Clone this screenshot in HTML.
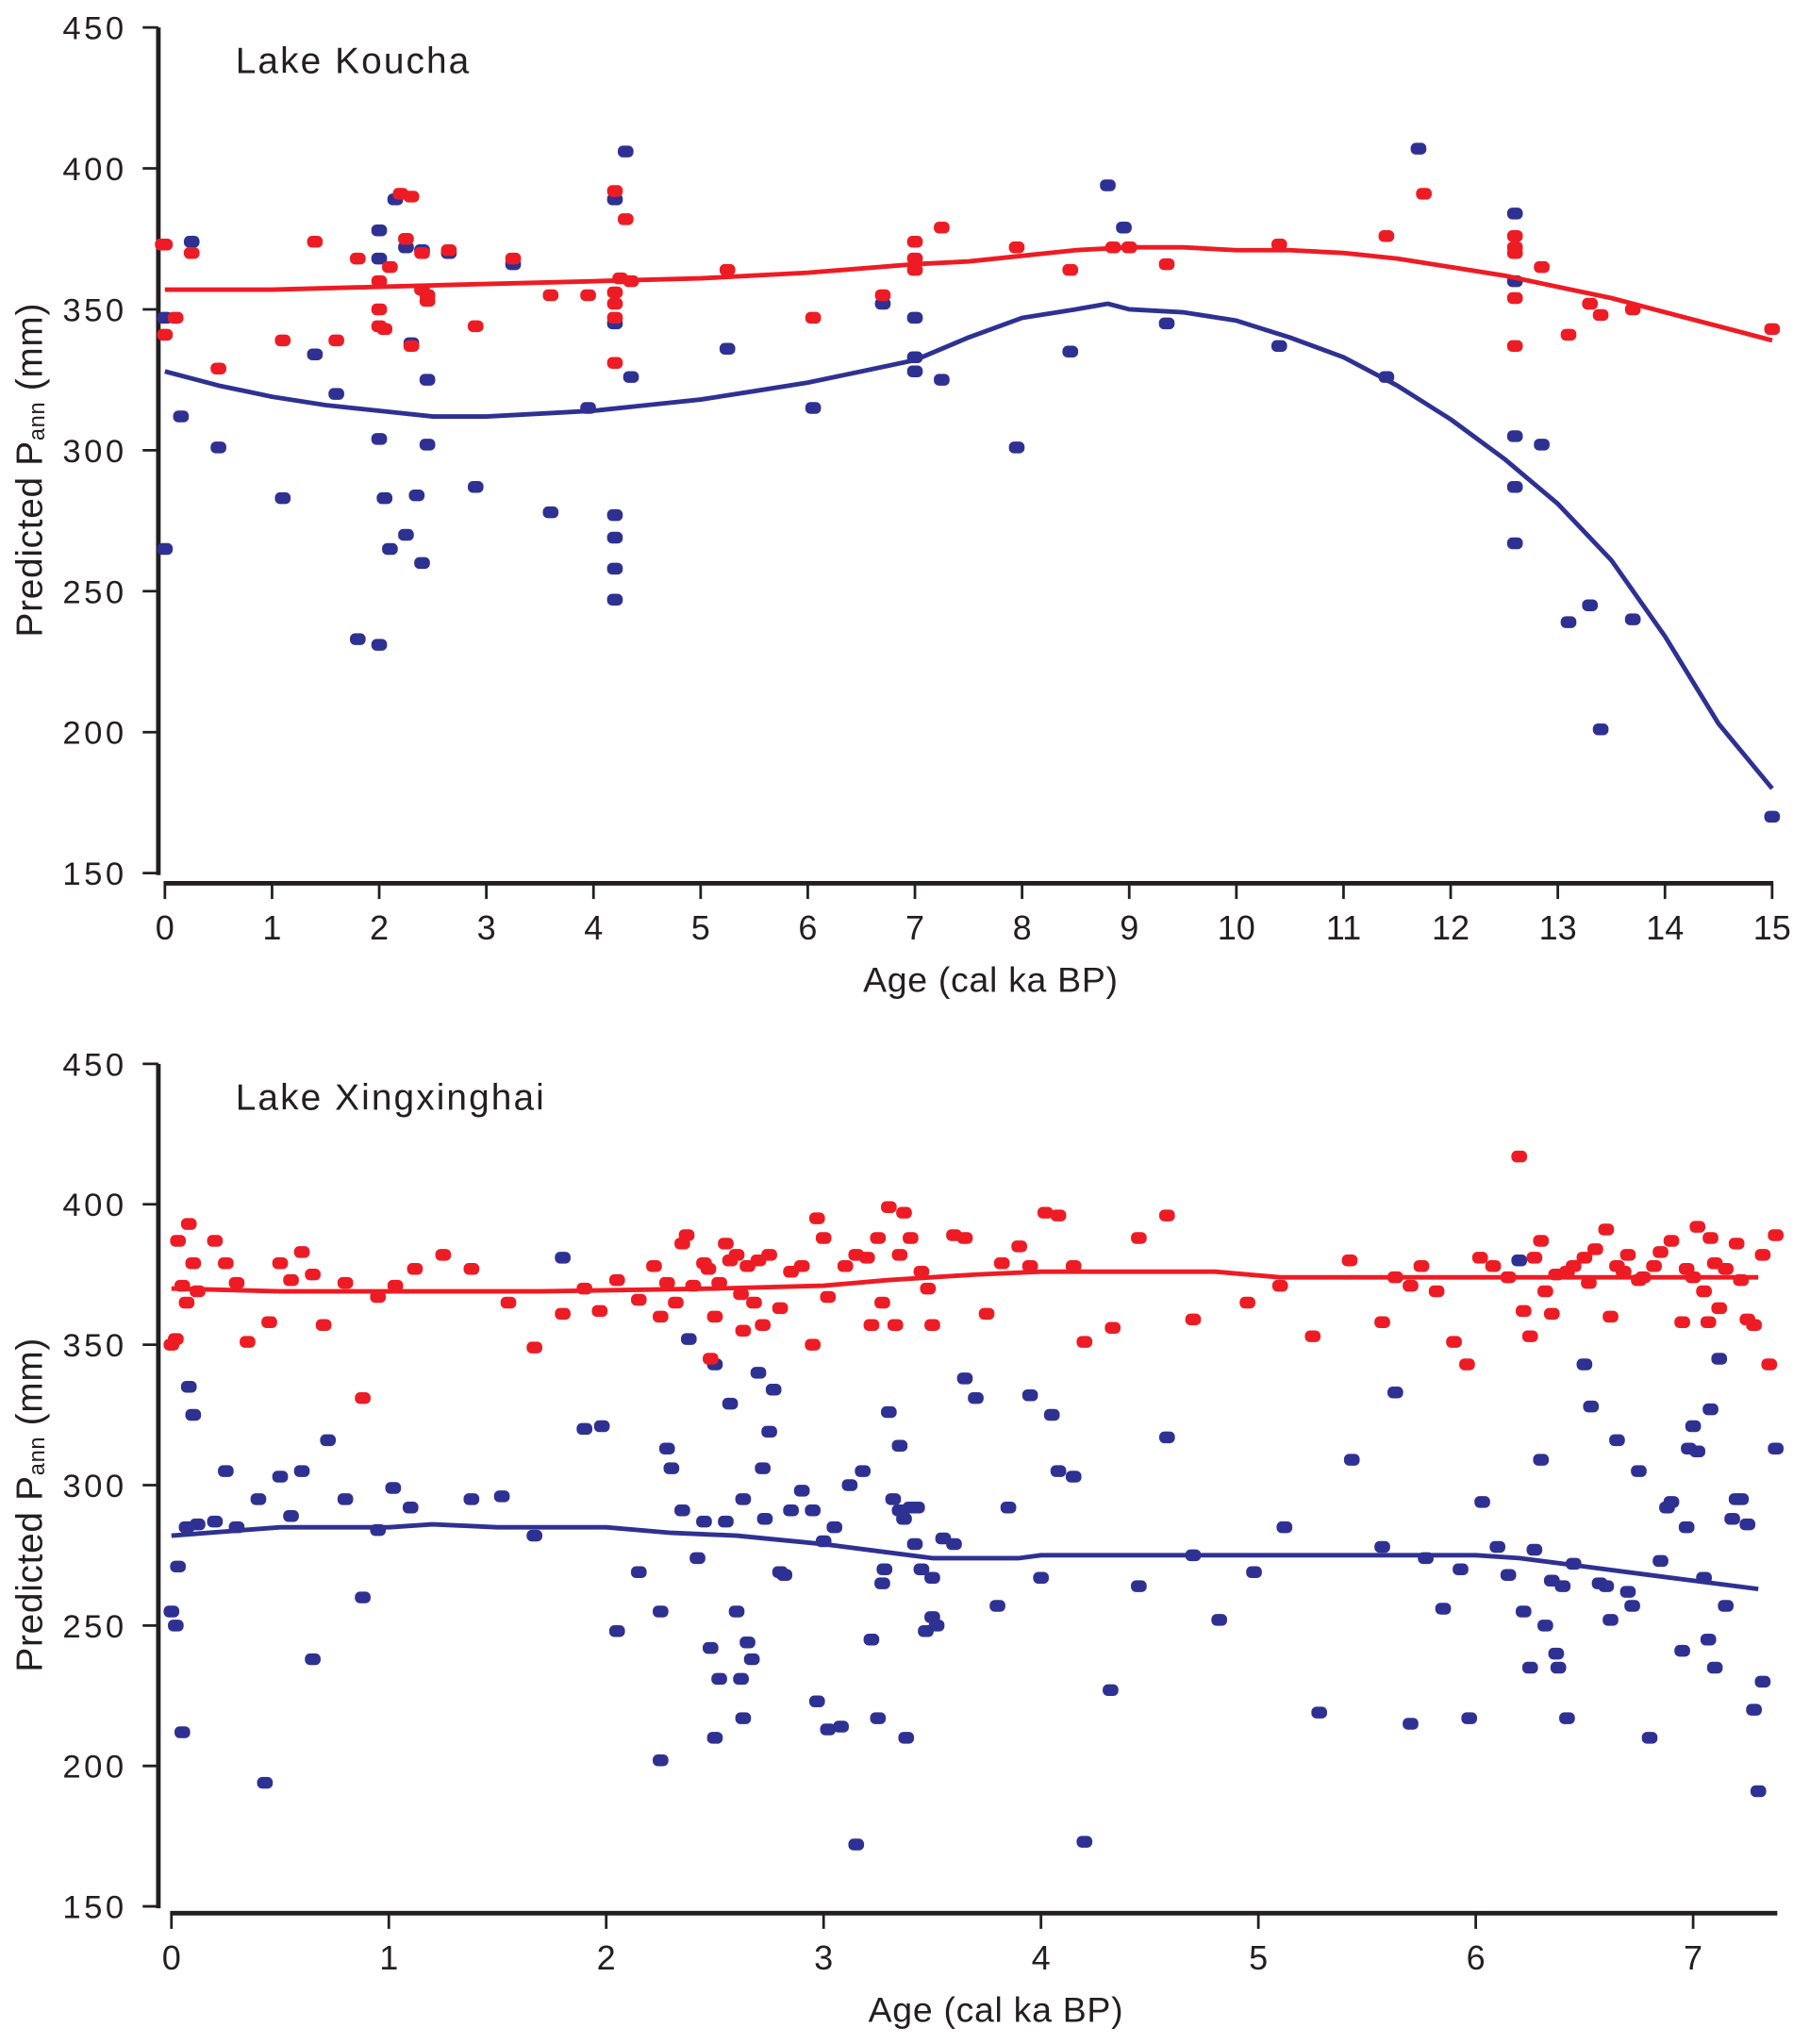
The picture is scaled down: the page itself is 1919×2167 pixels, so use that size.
<!DOCTYPE html>
<html><head><meta charset="utf-8">
<style>
html,body{margin:0;padding:0;background:#fff;}
svg{display:block;}
text{font-family:"Liberation Sans",Arial,sans-serif;fill:#231f20;}
</style></head>
<body>
<svg id="chart" width="1919" height="2167" viewBox="0 0 1383 1562" preserveAspectRatio="none" xmlns="http://www.w3.org/2000/svg">
<g id="top"></g>
<g id="bot"></g>
</svg>
<script>
// ---- Lake Koucha data ----
const kBlueAge=[0,0,0.15,0.25,0.5,1.1,1.4,1.6,1.8,2.0,2.0,2.0,2.0,2.05,2.1,2.15,2.25,2.3,2.25,2.4,2.35,2.4,2.45,2.45,2.65,2.9,3.25,3.6,3.95,4.2,4.2,4.3,4.35,4.2,4.2,4.2,4.2,5.25,6.05,6.7,7.0,7.0,7.0,7.25,7.95,8.45,8.8,8.95,9.35,10.4,11.4,11.7,12.6,12.6,12.6,12.6,12.6,12.85,13.1,13.3,13.4,13.7,15.0];
const kBlueVal=[347,265,312,374,301,283,334,320,233,378,368,304,231,283,265,389,372,338,270,371,284,260,325,302,370,287,366,278,315,389,345,406,326,277,269,258,247,336,315,352,347,328,333,325,301,335,394,379,345,337,326,407,384,360,305,287,267,302,239,245,201,240,170];
const kRedAge=[-0.02,0,0,0.1,0.25,0.5,1.1,1.4,1.6,1.8,2.0,2.0,2.0,2.05,2.1,2.2,2.3,2.25,2.3,2.4,2.4,2.45,2.45,2.65,2.9,3.25,3.6,3.95,4.2,4.2,4.2,4.2,4.25,4.3,4.35,4.2,5.25,6.05,6.7,7.0,7.0,7.0,7.25,7.95,8.45,8.85,9.0,9.35,10.4,11.4,11.75,12.6,12.6,12.6,12.6,12.6,12.85,13.1,13.3,13.4,13.7,15.0];
const kRedVal=[373,373,341,347,370,329,339,374,339,368,360,350,344,343,365,391,390,375,337,370,357,355,353,371,344,368,355,355,392,347,331,356,361,382,360,352,364,347,355,374,368,364,379,372,364,372,372,366,373,376,391,376,372,370,354,337,365,341,352,348,350,343];
const kRedLineAge=[0,1,2,3,4,5,6,7,7.5,8,8.5,9,9.5,10,10.5,11,11.5,12,12.5,13,13.5,14,14.5,15];
const kRedLineVal=[357,357,358,359,360,361,363,366,367,369,371,372,372,371,371,370,368,365,362,358,354,349,344,339];
const kBlueLineAge=[0,0.5,1,1.5,2,2.5,3,3.5,4,4.5,5,5.5,6,6.5,7,7.5,8,8.5,8.8,9,9.5,10,10.5,11,11.5,12,12.5,13,13.5,14,14.5,15];
const kBlueLineVal=[328,323,319,316,314,312,312,313,314,316,318,321,324,328,332,340,347,350,352,350,349,346,340,333,323,311,297,281,261,234,203,180];
const kXTicks=[0,1,2,3,4,5,6,7,8,9,10,11,12,13,14,15];
const yTicks=[150,200,250,300,350,400,450];

// ---- Lake Xingxinghai data ----
const xRedAge=[0,0.02,0.03,0.05,0.07,0.08,0.1,0.12,0.2,0.25,0.3,0.35,0.45,0.5,0.55,0.6,0.65,0.7,0.8,0.88,0.95,1.03,1.12,1.25,1.38,1.55,1.67,1.8,1.9,1.97,2.05,2.15,2.22,2.25,2.28,2.32,2.35,2.37,2.4,2.45,2.47,2.48,2.5,2.52,2.55,2.57,2.6,2.62,2.63,2.65,2.68,2.7,2.72,2.75,2.8,2.85,2.9,2.95,2.97,3.0,3.02,3.1,3.15,3.2,3.22,3.25,3.27,3.3,3.33,3.35,3.37,3.4,3.45,3.48,3.5,3.6,3.65,3.75,3.82,3.9,3.95,4.02,4.08,4.15,4.2,4.33,4.45,4.58,4.7,4.95,5.1,5.25,5.42,5.57,5.63,5.7,5.75,5.82,5.9,5.96,6.02,6.08,6.15,6.2,6.22,6.25,6.27,6.3,6.32,6.35,6.37,6.42,6.45,6.5,6.52,6.55,6.6,6.62,6.65,6.68,6.7,6.75,6.77,6.82,6.85,6.9,6.95,6.97,7.0,7.02,7.05,7.07,7.08,7.1,7.12,7.15,7.2,7.22,7.25,7.28,7.32,7.35,7.38];
const xRedVal=[350,352,387,371,365,393,379,369,387,379,372,351,358,379,373,383,375,357,372,331,367,371,377,382,377,365,349,361,370,362,373,366,378,360,372,365,386,389,371,379,377,345,360,372,386,380,382,368,355,378,365,380,357,382,363,376,378,350,395,388,367,378,382,381,357,388,365,399,357,382,397,388,376,370,357,389,388,361,379,385,378,397,396,378,351,356,388,396,359,365,371,353,380,358,374,371,378,369,351,343,381,378,374,417,362,353,381,387,369,361,375,376,378,381,372,384,391,360,378,376,382,373,374,378,383,387,358,377,374,392,369,358,388,379,363,377,386,373,359,357,382,343,389];
const xBlueAge=[0,0.02,0.03,0.05,0.08,0.1,0.07,0.12,0.2,0.25,0.3,0.4,0.43,0.5,0.55,0.6,0.65,0.72,0.8,0.88,0.95,1.02,1.1,1.38,1.52,1.67,1.8,1.9,1.98,2.05,2.15,2.25,2.25,2.28,2.3,2.35,2.38,2.42,2.45,2.48,2.5,2.5,2.52,2.55,2.57,2.6,2.62,2.63,2.63,2.65,2.67,2.7,2.72,2.73,2.75,2.77,2.8,2.82,2.85,2.9,2.95,2.97,3.0,3.02,3.05,3.08,3.12,3.15,3.18,3.22,3.25,3.27,3.28,3.3,3.32,3.35,3.35,3.37,3.38,3.4,3.42,3.43,3.45,3.47,3.5,3.5,3.52,3.55,3.6,3.65,3.7,3.8,3.85,3.95,4.0,4.05,4.08,4.15,4.2,4.32,4.45,4.58,4.7,4.82,4.98,5.12,5.28,5.43,5.57,5.63,5.7,5.77,5.85,5.93,5.97,6.03,6.1,6.15,6.2,6.22,6.25,6.27,6.3,6.32,6.35,6.37,6.38,6.4,6.42,6.45,6.5,6.53,6.57,6.6,6.62,6.65,6.7,6.72,6.75,6.8,6.85,6.88,6.9,6.95,6.97,6.98,7.0,7.02,7.05,7.07,7.08,7.1,7.12,7.15,7.18,7.2,7.22,7.25,7.28,7.3,7.32,7.38];
const xBlueVal=[255,250,271,212,335,325,285,286,287,305,285,295,194,303,289,305,238,316,295,260,284,299,292,295,296,282,381,320,321,248,269,202,255,313,306,291,352,274,287,242,343,210,231,287,329,255,231,217,295,244,238,340,306,288,319,334,269,268,291,298,291,223,280,213,285,214,300,172,305,245,217,265,270,326,295,314,291,288,210,292,279,292,270,248,253,267,250,281,279,338,331,257,292,332,267,325,305,303,173,227,264,317,275,252,269,285,219,309,278,333,215,274,256,270,217,294,278,268,380,255,235,277,309,250,266,240,235,264,217,272,343,328,265,264,252,316,262,257,305,210,273,292,294,241,285,313,321,312,267,245,327,235,345,257,288,295,295,286,220,191,230,313];
const xRedLineAge=[0,0.5,1,1.7,2.5,3,3.3,3.7,4,4.8,5.1,6,6.5,7,7.3];
const xRedLineVal=[370,369,369,369,370,371,373,375,376,376,374,374,374,374,374];
const xBlueLineAge=[0,0.5,1,1.2,1.5,2,2.3,2.6,3,3.3,3.5,3.9,4,6,6.2,6.5,6.8,7,7.3];
const xBlueLineVal=[282,285,285,286,285,285,283,282,279,276,274,274,275,275,274,271,268,266,263];
const xXTicks=[0,1,2,3,4,5,6,7];

const NS="http://www.w3.org/2000/svg";
const RED="#ed1c24", BLUE="#2e3192";
function mk(tag,attrs,parent){const e=document.createElementNS(NS,tag);for(const k in attrs)e.setAttribute(k,attrs[k]);parent.appendChild(e);return e;}

function panel(g,cfg){
  const xs=a=>cfg.x0+a*cfg.xu;
  const ys=v=>cfg.y450+(450-v)*cfg.yu;
  const ya=mk('line',{x1:cfg.yx,y1:ys(450),x2:cfg.yx,y2:ys(150)+1.5,stroke:'#231f20','stroke-width':3.5},g);
  
  
  yTicks.forEach(v=>{
    const t=mk('line',{x1:cfg.yx-12,y1:ys(v),x2:cfg.yx,y2:ys(v),stroke:'#231f20','stroke-width':2},g);
    
    
    const l=mk('text',{x:cfg.yx-24,y:ys(v)+9,'text-anchor':'end','font-size':25,'letter-spacing':'2.5'},g);
    l.textContent=v;
    
    
  });
  const xa=mk('line',{x1:xs(0)-1,y1:cfg.ax,x2:cfg.xend,y2:cfg.ax,stroke:'#231f20','stroke-width':3.5},g);
  
  
  cfg.ticks.forEach(v=>{
    const t=mk('line',{x1:xs(v),y1:cfg.ax,x2:xs(v),y2:cfg.ax+12,stroke:'#231f20','stroke-width':2},g);
    
    
    const l=mk('text',{x:xs(v),y:cfg.ax+43,'text-anchor':'middle','font-size':26},g);
    l.textContent=v;
    
    
  });
  const xt=mk('text',{x:cfg.xtx,y:cfg.ax+83,'text-anchor':'middle','font-size':27,'letter-spacing':'0.5'},g);
  xt.textContent='Age (cal ka BP)';
  
  
  const cy=(ys(450)+ys(150))/2;
  const yt=mk('text',{x:0,y:0,'text-anchor':'middle','font-size':28,'letter-spacing':'0.5',transform:`translate(32,${cy+15}) rotate(-90)`},g);
  yt.innerHTML='Predicted P<tspan font-size="17" dy="2">ann</tspan><tspan dy="-2"> (mm)</tspan>';
  
  
  const tt=mk('text',{x:180,y:ys(450)+35,'font-size':28,'letter-spacing':'1.5'},g);
  tt.textContent=cfg.title;
  
  
  function pts(ages,vals,col,name){
    ages.forEach((a,i)=>{
      const r=mk('rect',{x:xs(a)-6,y:ys(vals[i])-4.5,width:12,height:9,rx:4,fill:col},g);
      
      
    });
  }
  function line(ages,vals,col,name){
    const d=ages.map((a,i)=>(i?'L':'M')+xs(a).toFixed(1)+','+ys(vals[i]).toFixed(1)).join(' ');
    const p=mk('path',{d:d,fill:'none',stroke:col,'stroke-width':3.5,'stroke-linejoin':'round'},g);
    
    
  }
  pts(cfg.ba,cfg.bv,BLUE,'blue-point');
  pts(cfg.ra,cfg.rv,RED,'red-point');
  line(cfg.bla,cfg.blv,BLUE,'blue-trend-line');
  line(cfg.rla,cfg.rlv,RED,'red-trend-line');
}

panel(document.getElementById('top'),{x0:126,xu:81.87,y450:21,yu:107.7/50,yx:121,ax:675,xend:1355,ticks:kXTicks,xtx:757,title:'Lake Koucha',
  ba:kBlueAge,bv:kBlueVal,ra:kRedAge,rv:kRedVal,bla:kBlueLineAge,blv:kBlueLineVal,rla:kRedLineAge,rlv:kRedLineVal});
panel(document.getElementById('bot'),{x0:131,xu:166.1,y450:813,yu:107.3/50,yx:121,ax:1462,xend:1358,ticks:xXTicks,xtx:761,title:'Lake Xingxinghai',
  ba:xBlueAge,bv:xBlueVal,ra:xRedAge,rv:xRedVal,bla:xBlueLineAge,blv:xBlueLineVal,rla:xRedLineAge,rlv:xRedLineVal});
</script>
</body></html>
